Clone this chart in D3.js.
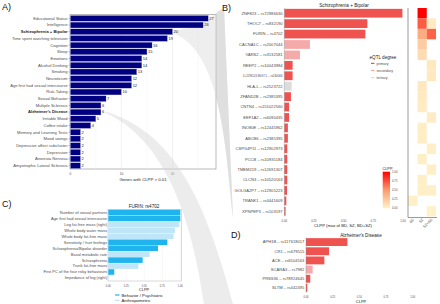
<!DOCTYPE html>
<html lang="en">
<head>
<meta charset="UTF-8">
<title>CLPP colocalization panels</title>
<style>
  body { margin: 0; background: #fff; }
  svg text { font-family: "Liberation Sans", Arial, sans-serif; }
</style>
</head>
<body>
<svg width="440" height="304"></svg>
<script src="https://cdn.jsdelivr.net/npm/d3@7"></script>
<script>

// ---- panel A: traits, genes with CLPP > 0.01
var traitsA = ["Educational Status", "Intelligence", "Schizophrenia + Bipolar", "Time spent watching television",
  "Cognition", "Sleep", "Emotions", "Alcohol Drinking", "Smoking", "Neuroticism",
  "Age first had sexual intercourse", "Risk-Taking", "Sexual Behavior", "Multiple Sclerosis",
  "Alzheimer's Disease", "Irritable Mood", "Coffee intake", "Memory and Learning Tests",
  "Mood swings", "Depressive affect subcluster", "Depression", "Anorexia Nervosa",
  "Amyotrophic Lateral Sclerosis"];
var genesA = [27, 26, 20, 19, 16, 15, 14, 14, 13, 12, 12, 10, 7, 6, 6, 5, 4, 2, 2, 2, 2, 2, 2];
var boldA = ["Schizophrenia + Bipolar", "Alzheimer's Disease"];
var ticksA = [0, 10, 20];

// ---- panel B: Schizophrenia + Bipolar
var genesB = ["ZNF823 \u2013 rs72986630", "THOC7 \u2013 rs832190", "FURIN \u2013 rs4702", "CACNA1C \u2013 rs2007044",
  "VARS2 \u2013 rs3132581", "REEP2 \u2013 rs10043984", "LL22NC03-86G7.1 \u2013 rs240066", "HLA-L \u2013 rs2523722",
  "ZFAND2B \u2013 rs2385395", "CNTN4 \u2013 rs151022560", "EEF1A2 \u2013 rs6090435", "INO80E \u2013 rs12445962",
  "ABCB6 \u2013 rs2385395", "CSPG4P11 \u2013 rs12902973", "PCCB \u2013 rs10935184", "TMEM219 \u2013 rs12691307",
  "CLCN3 \u2013 rs10520163", "GOLGA2P7 \u2013 rs12905223", "TRANK1 \u2013 rs4441609", "XPNPEP3 \u2013 rs103197"];
var clppB = [0.995, 0.70, 0.683, 0.216, 0.132, 0.07, 0.07, 0.062, 0.056, 0.04, 0.04, 0.03, 0.03,
  0.025, 0.025, 0.025, 0.025, 0.023, 0.017, 0.011];
var degreeB = ["primary", "primary", "primary", "secondary", "secondary", "primary", "primary", "tertiary",
  "primary", "primary", "primary", "primary", "primary", "primary", "primary", "primary", "primary",
  "primary", "primary", "primary"];
// heatmap columns (null = not tested / no colocalization)
var heatCols = ["BD", "SZ", "SZ+BD"];
var heatBD = [null, null, null, null, null, null, null, null, null, null, null, null, null, null, null, null, null, null, 0.017, null];
var heatSZ = [1.0, 0.70, 0.40, 0.22, 0.13, null, null, 0.06, 0.056, 0.04, null, 0.03, 0.03, null, 0.025, null, 0.025, 0.025, null, null];
var heatSZBD = [null, 0.05, 0.68, null, null, 0.07, 0.07, null, null, null, 0.04, null, null, 0.025, null, 0.025, null, 0.02, null, 0.011];
var ticksClpp = [0, 0.25, 0.5, 0.75, 1];
var degrees = ["primary", "secondary", "tertiary"];

// ---- panel C: FURIN rs4702
var traitsC = ["Number of sexual partners", "Age first had sexual intercourse", "Leg fat-free mass (right)",
  "Whole body water mass", "Whole body fat-free mass", "Sensitivity / hurt feelings",
  "Schizophrenia/Bipolar disorder", "Basal metabolic rate", "Schizophrenia", "Trunk fat-free mass",
  "First PC of the four risky behaviours", "Impedance of leg (right)"];
var clppC = [1.0, 1.0, 0.985, 0.925, 0.907, 0.82, 0.69, 0.574, 0.477, 0.417, 0.083, 0.005];
var groupC = ["Behavior / Psychiatric", "Behavior / Psychiatric", "Anthropometric", "Anthropometric",
  "Anthropometric", "Behavior / Psychiatric", "Behavior / Psychiatric", "Anthropometric",
  "Behavior / Psychiatric", "Anthropometric", "Behavior / Psychiatric", "Anthropometric"];
var groupsC = ["Behavior / Psychiatric", "Anthropometric"];

// ---- panel D: Alzheimer's Disease
var genesD = ["APH1B \u2013 rs117618017", "CR1 \u2013 rs679515", "ACE \u2013 rs6504163", "SCARA3 \u2013 rs7982",
  "PRSS36 \u2013 rs78924645", "SLTM \u2013 rs442495"];
var clppD = [0.388, 0.216, 0.172, 0.0625, 0.04, 0.0125];
var degreeD = ["primary", "primary", "primary", "secondary", "primary", "primary"];

var svg = d3.select("svg");
var labelGrey = "#4d4d4d";
var degreeColor = d3.scaleOrdinal().domain(degrees).range(["#ee5350", "#f5aaaa", "#dcdcdc"]);
var heatColor = d3.scaleLinear().domain([0, 0.5, 1]).range(["#fff3cb", "#fc9a6e", "#ff0000"]);
var groupColor = d3.scaleOrdinal().domain(groupsC).range(["#20b4ef", "#bfe6f8"]);

function fmt2(d) { return d3.format(".2f")(d); }

function panelLetter(txt, x, y) {
  svg.append("text").attr("x", x).attr("y", y).attr("font-size", 9).attr("fill", "#111").text(txt);
}

// zoom ribbon behind panel B: from the Schizophrenia + Bipolar bar to panel B
var xA = d3.scaleLinear().domain([0, 28.5]).range([70.3, 216]);
var yA = d3.scaleBand().domain(traitsA).range([15, 169]).paddingInner(0.12).paddingOuter(0.06);
var szY = yA("Schizophrenia + Bipolar") + yA.bandwidth() / 2;
var szX = xA(genesA[2]) + 1;
var ribbonB = svg.append("path")
  .attr("d", "M" + szX + "," + (szY - 1.5) + " C 203," + (szY - 3) + " 212,14 224,8 L 233,218 C 225,140 220,52 " + szX + "," + (szY + 1.5) + " Z")
  .attr("fill", "#d9d9d9").attr("opacity", 0.75);

// =================== A ===================
var gA = svg.append("g");

gA.append("rect").attr("x", 70).attr("y", 14.5).attr("width", 146).attr("height", 154.5)
  .attr("fill", "#fff").attr("stroke", "#8a8a8a").attr("stroke-width", 0.6);

gA.selectAll(".gridMinor").data([5, 15, 25]).enter().append("line")
  .attr("x1", xA).attr("x2", xA).attr("y1", 14.5).attr("y2", 169)
  .attr("stroke", "#f0f0f0").attr("stroke-width", 0.4);
gA.selectAll(".gridMajor").data(ticksA).enter().append("line")
  .attr("x1", xA).attr("x2", xA).attr("y1", 14.5).attr("y2", 169)
  .attr("stroke", "#e2e2e2").attr("stroke-width", 0.5);

// faint part of the ribbon that shows over panel A
gA.append("path")
  .attr("d", "M" + szX + "," + (szY - 1.5) + " C 203," + (szY - 3) + " 212,14 224,8 L 233,218 C 225,140 220,52 " + szX + "," + (szY + 1.5) + " Z")
  .attr("fill", "#d9d9d9").attr("opacity", 0.45);

gA.selectAll(".bar").data(genesA).enter().append("rect")
  .attr("x", xA(0))
  .attr("y", function(d, i) { return yA(traitsA[i]); })
  .attr("width", function(d) { return xA(d) - xA(0); })
  .attr("height", yA.bandwidth())
  .attr("fill", "#000080").attr("stroke", "#d8d8e8").attr("stroke-width", 0.3);

gA.selectAll(".val").data(genesA).enter().append("text")
  .attr("x", function(d) { return xA(d) + 1; })
  .attr("y", function(d, i) { return yA(traitsA[i]) + yA.bandwidth() / 2 + 1.4; })
  .attr("font-size", 4).attr("fill", "#222").text(function(d) { return d; });

gA.selectAll(".lab").data(traitsA).enter().append("text")
  .attr("x", 67.5)
  .attr("y", function(d) { return yA(d) + yA.bandwidth() / 2 + 1.4; })
  .attr("text-anchor", "end").attr("font-size", 4.1)
  .attr("font-weight", function(d) { return boldA.indexOf(d) >= 0 ? "bold" : "normal"; })
  .attr("fill", function(d) { return boldA.indexOf(d) >= 0 ? "#222" : labelGrey; })
  .text(function(d) { return d; });
gA.selectAll(".tickA").data(traitsA).enter().append("line")
  .attr("x1", 68.5).attr("x2", 70)
  .attr("y1", function(d) { return yA(d) + yA.bandwidth() / 2; })
  .attr("y2", function(d) { return yA(d) + yA.bandwidth() / 2; })
  .attr("stroke", "#666").attr("stroke-width", 0.4);

gA.selectAll(".tlA").data(ticksA).enter().append("text")
  .attr("x", xA).attr("y", 174.8).attr("text-anchor", "middle")
  .attr("font-size", 3.2).attr("fill", labelGrey).text(function(d) { return d; });
gA.append("text").attr("x", 143).attr("y", 181).attr("text-anchor", "middle")
  .attr("font-size", 4.3).attr("fill", "#222").text("Genes with CLPP > 0.01");

// =================== B ===================
var xB = d3.scaleLinear().domain([0, 1]).range([284.3, 403]);
var yB = d3.scaleBand().domain(genesB).range([8, 216.5]).paddingInner(0.16).paddingOuter(0.08);
var gB = svg.append("g");

gB.append("text").attr("x", 344).attr("y", 6.6).attr("text-anchor", "middle")
  .attr("font-size", 4.7).attr("fill", "#222").text("Schizophrenia + Bipolar");

gB.selectAll(".bar").data(clppB).enter().append("rect")
  .attr("x", xB(0))
  .attr("y", function(d, i) { return yB(genesB[i]); })
  .attr("width", function(d) { return xB(d) - xB(0); })
  .attr("height", yB.bandwidth())
  .attr("fill", function(d, i) { return degreeColor(degreeB[i]); });

gB.append("line").attr("x1", xB(0)).attr("x2", xB(0)).attr("y1", 8).attr("y2", 216.5)
  .attr("stroke", "#8a8a8a").attr("stroke-width", 0.4);

gB.selectAll(".lab").data(genesB).enter().append("text")
  .attr("x", 282.5)
  .attr("y", function(d) { return yB(d) + yB.bandwidth() / 2 + 1.4; })
  .attr("text-anchor", "end")
  .attr("font-size", function(d) { return d.indexOf("LL22") === 0 ? 2.9 : 4.1; })
  .attr("fill", labelGrey).text(function(d) { return d; });

gB.selectAll(".tlB").data(ticksClpp).enter().append("text")
  .attr("x", xB).attr("y", 221.5).attr("text-anchor", "middle")
  .attr("font-size", 2.8).attr("fill", labelGrey).text(fmt2);
gB.append("text").attr("x", 343).attr("y", 227.3).attr("text-anchor", "middle")
  .attr("font-size", 4.2).attr("fill", "#222").text("CLPP (max of BD, SZ, BD+SZ)");

// eQTL legend
var lgB = gB.append("g");
lgB.append("text").attr("x", 369.5).attr("y", 59).attr("font-size", 4.6).attr("fill", "#222").text("eQTL degree");
lgB.selectAll(".k").data(degrees).enter().append("line")
  .attr("x1", 371).attr("x2", 374.5)
  .attr("y1", function(d, i) { return 63.4 + i * 7.1; })
  .attr("y2", function(d, i) { return 63.4 + i * 7.1; })
  .attr("stroke", function(d) { return degreeColor(d); }).attr("stroke-width", 1.2);
lgB.selectAll(".t").data(degrees).enter().append("text")
  .attr("x", 376.5).attr("y", function(d, i) { return 64.7 + i * 7.1; })
  .attr("font-size", 3.6).attr("fill", labelGrey).text(function(d) { return d; });

// heatmap
var xH = d3.scaleBand().domain(heatCols).range([408.3, 436]);
var heatRows = [];
[heatBD, heatSZ, heatSZBD].forEach(function(arr, c) {
  arr.forEach(function(v, r) {
    if (v !== null) heatRows.push({ col: heatCols[c], gene: genesB[r], v: v });
  });
});
var stepB = yB.step();
gB.selectAll(".cell").data(heatRows).enter().append("rect")
  .attr("x", function(d) { return xH(d.col); })
  .attr("y", function(d) { return yB(d.gene) + yB.bandwidth() / 2 - stepB / 2; })
  .attr("width", xH.bandwidth())
  .attr("height", stepB)
  .attr("fill", function(d) { return heatColor(d.v); });
gB.append("path").attr("d", "M408,8 V217.5 H437")
  .attr("fill", "none").attr("stroke", "#555").attr("stroke-width", 0.6);
gB.selectAll(".hl").data(heatCols).enter().append("text")
  .attr("transform", function(d) { return "translate(" + (xH(d) + xH.bandwidth() / 2 + 1.5) + ",220) rotate(-45)"; })
  .attr("text-anchor", "end").attr("font-size", 3.6).attr("fill", labelGrey).text(function(d) { return d; });

// CLPP gradient legend
var grad = svg.append("defs").append("linearGradient").attr("id", "clppGrad")
  .attr("x1", 0).attr("y1", 1).attr("x2", 0).attr("y2", 0);
d3.range(0, 1.01, 0.1).forEach(function(t) {
  grad.append("stop").attr("offset", t).attr("stop-color", heatColor(t));
});
var yLeg = d3.scaleLinear().domain([0, 1]).range([208.3, 171.7]);
gB.append("text").attr("x", 382.5).attr("y", 169.8).attr("font-size", 3.8).attr("fill", "#222").text("CLPP");
gB.append("rect").attr("x", 382.7).attr("y", yLeg(1)).attr("width", 7.3).attr("height", yLeg(0) - yLeg(1))
  .attr("fill", "url(#clppGrad)");
gB.selectAll(".lt").data(ticksClpp).enter().append("text")
  .attr("x", 392).attr("y", function(d) { return yLeg(d) + 1; })
  .attr("font-size", 2.8).attr("fill", labelGrey).text(fmt2);

// zoom ribbon from the Alzheimer's bar down to panel D (drawn before C and D so they sit on it)
var adY = yA("Alzheimer's Disease") + yA.bandwidth() / 2;
var adX = xA(genesA[14]) + 5;
svg.append("path")
  .attr("d", "M" + adX + "," + (adY - 0.5) + " C 160,130 198,170 233,304 L 204,304 C 190,205 160,138 " + adX + "," + (adY + 0.8) + " Z")
  .attr("fill", "#d4d4d4").attr("opacity", 0.45);

// =================== C ===================
var xC = d3.scaleLinear().domain([0, 1]).range([108.3, 180.3]);
var yC = d3.scaleBand().domain(traitsC).range([209.5, 281]).paddingInner(0.06).paddingOuter(0.04);
var gC = svg.append("g");
gC.append("text").attr("x", 144).attr("y", 208).attr("text-anchor", "middle")
  .attr("font-size", 4.6).attr("fill", "#222").text("FURIN: rs4702");
gC.append("rect").attr("x", 108).attr("y", 209.3).attr("width", 73.7).attr("height", 71.7)
  .attr("fill", "#fff").attr("stroke", "#b5b5b5").attr("stroke-width", 0.5);
gC.selectAll(".grid").data(ticksClpp).enter().append("line")
  .attr("x1", xC).attr("x2", xC).attr("y1", 209.3).attr("y2", 281)
  .attr("stroke", "#ececec").attr("stroke-width", 0.4);
gC.selectAll(".bar").data(clppC).enter().append("rect")
  .attr("x", xC(0))
  .attr("y", function(d, i) { return yC(traitsC[i]); })
  .attr("width", function(d) { return xC(d) - xC(0); })
  .attr("height", yC.bandwidth())
  .attr("fill", function(d, i) { return groupColor(groupC[i]); });
gC.selectAll(".lab").data(traitsC).enter().append("text")
  .attr("x", 107).attr("y", function(d) { return yC(d) + yC.bandwidth() / 2 + 1.4; })
  .attr("text-anchor", "end").attr("font-size", 4).attr("fill", labelGrey).text(function(d) { return d; });
gC.selectAll(".tl").data(ticksClpp).enter().append("text")
  .attr("x", xC).attr("y", 286.5).attr("text-anchor", "middle")
  .attr("font-size", 2.6).attr("fill", labelGrey).text(fmt2);
gC.append("text").attr("x", 144).attr("y", 291).attr("text-anchor", "middle")
  .attr("font-size", 4).attr("fill", "#222").text("CLPP");
gC.selectAll(".lk").data(groupsC).enter().append("line")
  .attr("x1", 115).attr("x2", 119.5)
  .attr("y1", function(d, i) { return 295 + i * 5.3; })
  .attr("y2", function(d, i) { return 295 + i * 5.3; })
  .attr("stroke", function(d) { return groupColor(d); }).attr("stroke-width", 1.2);
gC.selectAll(".lt").data(groupsC).enter().append("text")
  .attr("x", 121.5).attr("y", function(d, i) { return 296.5 + i * 5.3; })
  .attr("font-size", 4.3).attr("fill", "#222").text(function(d) { return d; });

// =================== D ===================
var xD = d3.scaleLinear().domain([0, 1]).range([306, 412.7]);
var yD = d3.scaleBand().domain(genesD).range([237.5, 292.5]).paddingInner(0.14).paddingOuter(0.07);
var gD = svg.append("g");
gD.append("text").attr("x", 361).attr("y", 236.6).attr("text-anchor", "middle")
  .attr("font-size", 4.6).attr("fill", "#222").text("Alzheimer's Disease");
gD.selectAll(".bar").data(clppD).enter().append("rect")
  .attr("x", xD(0))
  .attr("y", function(d, i) { return yD(genesD[i]); })
  .attr("width", function(d) { return xD(d) - xD(0); })
  .attr("height", yD.bandwidth())
  .attr("fill", function(d, i) { return degreeColor(degreeD[i]); });
gD.append("line").attr("x1", xD(0)).attr("x2", xD(0)).attr("y1", 237.5).attr("y2", 292.5)
  .attr("stroke", "#8a8a8a").attr("stroke-width", 0.4);
gD.selectAll(".lab").data(genesD).enter().append("text")
  .attr("x", 304.3).attr("y", function(d) { return yD(d) + yD.bandwidth() / 2 + 1.4; })
  .attr("text-anchor", "end").attr("font-size", 4.1).attr("fill", labelGrey).text(function(d) { return d; });
gD.selectAll(".tl").data(ticksClpp).enter().append("text")
  .attr("x", xD).attr("y", 297.8).attr("text-anchor", "middle")
  .attr("font-size", 2.6).attr("fill", labelGrey).text(fmt2);
gD.append("text").attr("x", 361).attr("y", 303).attr("text-anchor", "middle")
  .attr("font-size", 4).attr("fill", "#222").text("CLPP");

panelLetter("A)", 2, 10);
panelLetter("B)", 222, 10.5);
panelLetter("C)", 2, 207);
panelLetter("D)", 231, 237.5);
</script>
</body>
</html>
